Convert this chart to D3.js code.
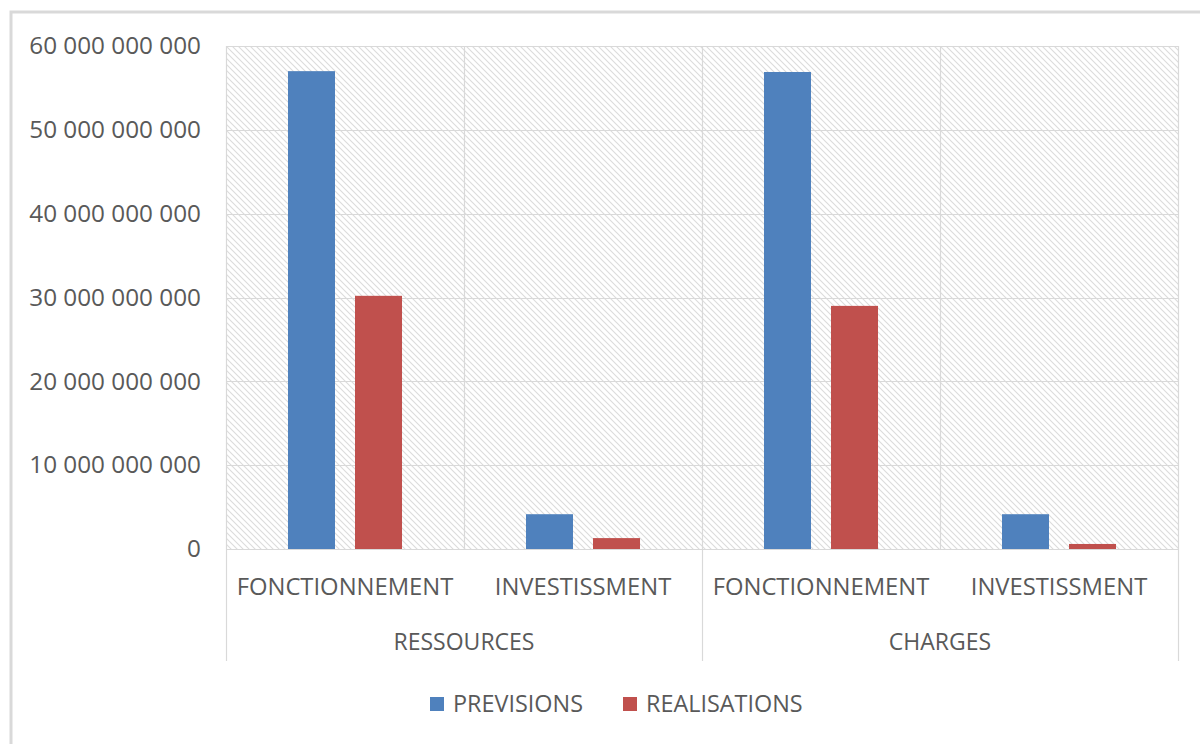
<!DOCTYPE html>
<html>
<head>
<meta charset="utf-8">
<script src="https://cdn.jsdelivr.net/npm/d3@7"></script>
<style>
  html, body { margin: 0; padding: 0; background: #fff; }
  svg { display: block; }
  text { font-family: "Open Sans", "Noto Sans", sans-serif; fill: #595959; }
</style>
</head>
<body>
<svg id="chart" width="1200" height="744"></svg>
<script>
// Budget data: groups, sub-categories and the two series
const groups = ["RESSOURCES", "CHARGES"];
const subCategories = ["FONCTIONNEMENT", "INVESTISSMENT"];
const seriesNames = ["PREVISIONS", "REALISATIONS"];
const previsions = [57000000000, 4150000000, 56900000000, 4150000000];
const realisations = [30200000000, 1300000000, 29000000000, 600000000];
const yTicks = [0, 10000000000, 20000000000, 30000000000, 40000000000, 50000000000, 60000000000];
const colors = ["#4f81bd", "#c0504d"];

// Flatten group/sub-category pairs into x-axis slots
const slots = [];
groups.forEach((g, gi) => subCategories.forEach((s, si) => {
  slots.push({ key: g + "|" + s, group: g, sub: s, idx: gi * subCategories.length + si });
}));

const svg = d3.select("#chart");
const margin = { left: 226, right: 22, top: 46, bottom: 195 };
const W = 1200, H = 744;
const plotW = W - margin.left - margin.right;
const plotH = H - margin.top - margin.bottom;

// Outer chart frame
svg.append("rect")
  .attr("x", 11).attr("y", 12)
  .attr("width", 1200).attr("height", 800)
  .attr("fill", "#fff").attr("stroke", "#d9d9d9").attr("stroke-width", 3);

// Hatched plot background pattern
const defs = svg.append("defs");
const pat = defs.append("pattern")
  .attr("id", "hatch").attr("patternUnits", "userSpaceOnUse")
  .attr("width", 6).attr("height", 6);
pat.append("rect").attr("width", 6).attr("height", 6).attr("fill", "#fff");
pat.append("path")
  .attr("d", "M-1,-1 L7,7 M-4,2 L2,8 M4,-2 L8,2")
  .attr("stroke", "#dcdcdc").attr("stroke-width", 1.1);

const g = svg.append("g").attr("transform", `translate(${margin.left},${margin.top})`);

const x = d3.scaleBand().domain(slots.map(d => d.key)).range([0, plotW]).paddingInner(0).paddingOuter(0);
const x1 = d3.scaleBand().domain(seriesNames).range([0, x.bandwidth()]).paddingInner(0.2985).paddingOuter(0.925);
const y = d3.scaleLinear().domain([0, 60000000000]).range([plotH, 0]);

g.append("rect").attr("width", plotW).attr("height", plotH).attr("fill", "url(#hatch)");

// Horizontal gridlines
g.append("g").selectAll("line").data(yTicks).join("line")
  .attr("x1", 0).attr("x2", plotW)
  .attr("y1", d => Math.round(y(d)) + 0.5).attr("y2", d => Math.round(y(d)) + 0.5)
  .attr("stroke", "#d9d9d9").attr("stroke-width", 1.2);

// Vertical gridlines at slot boundaries
const bounds = slots.map(d => x(d.key)).concat([plotW]);
g.append("g").selectAll("line").data(bounds).join("line")
  .attr("x1", d => Math.round(d) + 0.5).attr("x2", d => Math.round(d) + 0.5)
  .attr("y1", 0).attr("y2", plotH)
  .attr("stroke", "#d9d9d9").attr("stroke-width", 1.2);

// Bars
const fmt = v => d3.format(",")(v).replace(/,/g, " ");
const barData = slots.flatMap(s => [
  { slot: s.key, series: seriesNames[0], value: previsions[s.idx], color: colors[0] },
  { slot: s.key, series: seriesNames[1], value: realisations[s.idx], color: colors[1] }
]);
g.append("g").selectAll("rect").data(barData).join("rect")
  .attr("x", d => x(d.slot) + x1(d.series))
  .attr("y", d => y(d.value))
  .attr("width", x1.bandwidth())
  .attr("height", d => plotH - y(d.value))
  .attr("fill", d => d.color);

// Y axis labels
const yAxis = d3.axisLeft(y).tickValues(yTicks).tickFormat(fmt).tickSize(0).tickPadding(25);
const ya = g.append("g").call(yAxis);
ya.select(".domain").remove();
ya.selectAll("text").attr("font-size", 24.3).attr("fill", "#595959")
  .style("font-family", '"Open Sans", sans-serif');

// Multi-level category axis: sub-category labels, then group labels
const xAxis = d3.axisBottom(x).tickFormat(k => k.split("|")[1]).tickSize(0).tickPadding(29);
const xa = g.append("g").attr("transform", `translate(0,${plotH})`).call(xAxis);
xa.select(".domain").remove();
xa.selectAll("text").attr("font-size", 23.8).attr("fill", "#595959")
  .style("font-family", '"Open Sans", sans-serif');

const groupWidth = x.bandwidth() * subCategories.length;
const gLabels = g.append("g").attr("transform", `translate(0,${plotH})`);
gLabels.selectAll("text").data(groups).join("text")
  .attr("x", (d, i) => i * groupWidth + groupWidth / 2)
  .attr("y", 101)
  .attr("text-anchor", "middle")
  .attr("font-size", 23)
  .text(d => d);
// Group dividers below the axis
gLabels.selectAll("line").data(d3.range(groups.length + 1)).join("line")
  .attr("x1", i => Math.round(i * groupWidth) + 0.5).attr("x2", i => Math.round(i * groupWidth) + 0.5)
  .attr("y1", 0).attr("y2", 112)
  .attr("stroke", "#d9d9d9").attr("stroke-width", 1.2);

// Legend
const legend = svg.append("g").attr("transform", "translate(430,704)");
const legendX = [0, 193];
seriesNames.forEach((name, i) => {
  const lg = legend.append("g").attr("transform", `translate(${legendX[i]},0)`);
  lg.append("rect").attr("x", 0).attr("y", -7).attr("width", 14).attr("height", 14).attr("fill", colors[i]);
  lg.append("text").attr("x", 23).attr("y", 0).attr("dy", "0.35em")
    .attr("font-size", 23.4).text(name);
});
</script>
</body>
</html>
